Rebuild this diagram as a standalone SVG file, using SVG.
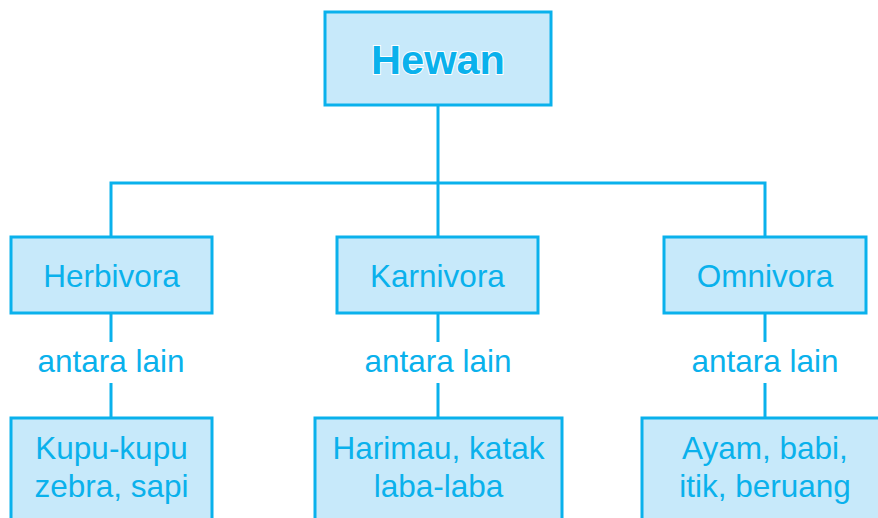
<svg xmlns="http://www.w3.org/2000/svg" width="878" height="518" viewBox="0 0 878 518">
<style>
.box{fill:#c7e9fa;stroke:#0ab1ec;stroke-width:3}
.ln{stroke:#0ab1ec;stroke-width:3;fill:none}
text{font-family:"Liberation Sans",Arial,sans-serif;fill:#0ab1ec;text-anchor:middle;font-size:31.5px}
.t{font-size:41.5px;font-weight:bold;stroke:#ffffff;stroke-width:2;paint-order:stroke}
</style>
<rect width="878" height="518" fill="#ffffff"/>
<g id="connectors">
<path class="ln" d="M438 105V237M111 237V183H765V237"/>
<path class="ln" d="M111 313V342M111 383V418"/>
<path class="ln" d="M438 313V342M438 383V418"/>
<path class="ln" d="M765 313V342M765 383V418"/>
</g>
<g id="hewan"><rect class="box" x="325" y="12" width="226" height="93"/><text class="t" x="438" y="74">Hewan</text></g>
<g id="herbivora"><rect class="box" x="11" y="237" width="201" height="76"/><text x="111.5" y="287">Herbivora</text></g>
<g id="karnivora"><rect class="box" x="337" y="237" width="201" height="76"/><text x="437.5" y="287">Karnivora</text></g>
<g id="omnivora"><rect class="box" x="664" y="237" width="202" height="76"/><text x="765" y="287">Omnivora</text></g>
<g id="label-herbivora"><text x="111" y="372">antara lain</text></g>
<g id="label-karnivora"><text x="438" y="372">antara lain</text></g>
<g id="label-omnivora"><text x="765" y="372">antara lain</text></g>
<g id="contoh-herbivora"><rect class="box" x="11" y="418" width="201" height="120"/><text x="111.5" y="459">Kupu-kupu</text><text x="111.5" y="497">zebra, sapi</text></g>
<g id="contoh-karnivora"><rect class="box" x="315" y="418" width="247" height="120"/><text x="438.5" y="459">Harimau, katak</text><text x="438.5" y="497">laba-laba</text></g>
<g id="contoh-omnivora"><rect class="box" x="642" y="418" width="246" height="120"/><text x="765" y="459">Ayam, babi,</text><text x="765" y="497">itik, beruang</text></g>
</svg>
